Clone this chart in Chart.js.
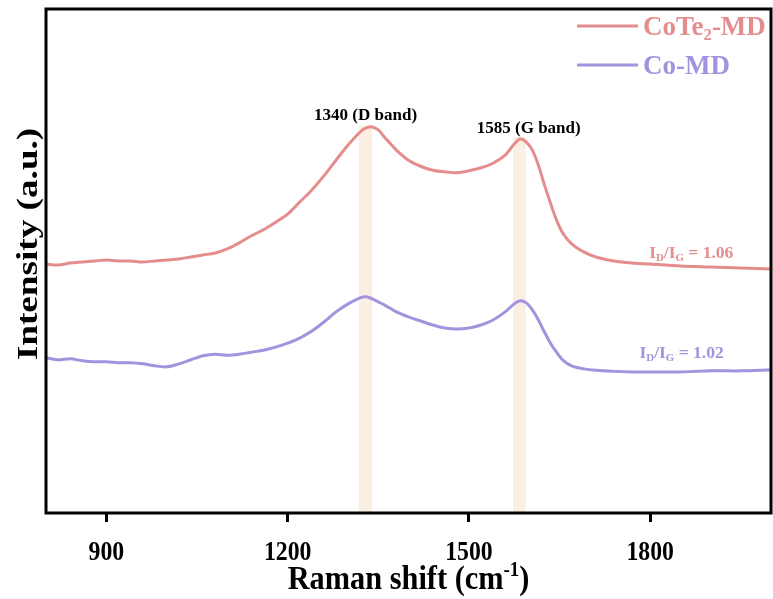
<!DOCTYPE html>
<html><head><meta charset="utf-8">
<script src="https://cdn.jsdelivr.net/npm/chart.js@4.4.1/dist/chart.umd.min.js"></script>
<style>html,body{margin:0;padding:0;background:#fff;}canvas{display:block;}</style>
</head><body>
<canvas id="c" width="773" height="599"></canvas>
<script>
// ---- data ----
const ramanShift = [800,820,840,860,880,900,920,940,960,980,1000,1020,1040,1060,1080,1100,1120,1140,1160,1180,1200,1220,1240,1260,1280,1300,1320,1330,1340,1350,1360,1380,1400,1420,1440,1460,1480,1500,1520,1540,1560,1575,1585,1595,1605,1615,1625,1635,1645,1655,1670,1690,1710,1740,1770,1800,1850,1900,1950,2000];
const cote2MD = [49.4,49.2,49.6,49.8,50.0,50.2,50.0,50.0,49.8,50.0,50.2,50.4,50.8,51.2,51.6,52.4,53.6,55.0,56.2,57.7,59.3,61.7,64.1,66.9,70.0,73.0,75.6,76.4,76.6,76.0,74.6,72.0,70.0,68.8,68.0,67.7,67.5,67.9,68.5,69.4,71.0,73.2,74.2,73.6,72.0,69.0,65.1,61.5,58.1,55.6,53.4,51.8,50.8,50.0,49.6,49.4,49.0,48.8,48.6,48.4];
const coMD = [30.8,30.4,30.6,30.2,30.0,30.0,29.8,29.8,29.6,29.2,29.0,29.6,30.4,31.2,31.5,31.3,31.5,31.9,32.3,32.9,33.7,34.7,36.1,37.9,39.9,41.5,42.7,42.9,42.5,41.9,41.3,39.9,38.9,38.1,37.3,36.7,36.5,36.7,37.3,38.3,39.9,41.5,42.1,41.7,40.3,38.3,35.9,33.7,31.9,30.4,29.2,28.6,28.3,28.1,28.0,28.0,28.0,28.2,28.2,28.4];
const xTicks = [900,1200,1500,1800];
const seriesNames = ['CoTe_{2}-MD','Co-MD'];
const bandFrom = [1318,1573];
const bandTo = [1340,1594];
const bandTop = [76.8,74.6];
const peakLabels = ['1340 (D band)','1585 (G band)'];
const peakLabelX = [1329,1599];
const peakLabelY = [79.0,76.6];
const ratioLabels = ['I_{D}/I_{G} = 1.06','I_{D}/I_{G} = 1.02'];
const ratioLabelX = [1868,1852];
const ratioLabelY = [51.8,31.9];
const xTitle = 'Raman shift (cm^{-1})';
const yTitle = 'Intensity (a.u.)';

const colors = ['rgb(229,141,141)','rgb(163,146,222)'];
const FONT = '"Liberation Serif","Times New Roman",serif';

function parseRich(s){
  const out=[]; const re=/([_^])\{([^}]*)\}/g; let last=0,m;
  while((m=re.exec(s))){ if(m.index>last) out.push([s.slice(last,m.index),0]); out.push([m[2], m[1]==='_'?1:2]); last=re.lastIndex; }
  if(last<s.length) out.push([s.slice(last),0]);
  return out;
}
// draws rich text centred vertically on cy; sx = horizontal stretch of glyphs
function richText(ctx, s, x, cy, size, color, align, sx){
  sx = sx || 1;
  const segs=parseRich(s); const small=size*0.62;
  ctx.save(); ctx.fillStyle=color; ctx.textBaseline='alphabetic'; ctx.textAlign='left';
  let total=0; const ws=[];
  for(const [t,mode] of segs){ ctx.font='bold '+(mode?small:size)+'px '+FONT; const w=ctx.measureText(t).width; ws.push(w); total+=w; }
  total*=sx;
  let px = align==='center'? x-total/2 : (align==='right'? x-total : x);
  const base = cy + size*0.33;
  ctx.translate(px, base); ctx.scale(sx,1);
  let cx=0;
  segs.forEach(([t,mode],i)=>{
    ctx.font='bold '+(mode?small:size)+'px '+FONT;
    const off = mode===1? size*0.2 : (mode===2? -size*0.38 : 0);
    ctx.fillText(t, cx, off); cx+=ws[i];
  });
  ctx.restore();
}

const decor = {
  id:'decor',
  beforeDatasetsDraw(chart){
    const {ctx, scales:{x,y}, chartArea:a} = chart;
    ctx.save(); ctx.fillStyle='rgba(250,234,219,0.8)';
    for(let i=0;i<bandFrom.length;i++){
      const x0=x.getPixelForValue(bandFrom[i]), x1=x.getPixelForValue(bandTo[i]);
      const yt=y.getPixelForValue(bandTop[i]);
      ctx.fillRect(x0, yt, x1-x0, a.bottom-yt);
    }
    ctx.restore();
  },
  afterDraw(chart){
    const {ctx, scales:{x,y}, chartArea:a} = chart;
    // frame
    ctx.save(); ctx.strokeStyle='#000'; ctx.lineWidth=3;
    ctx.strokeRect(a.left, a.top, a.right-a.left, a.bottom-a.top); ctx.restore();
    // tick labels
    xTicks.forEach(v=> richText(ctx, String(v), x.getPixelForValue(v), 551, 27, '#000', 'center', 0.88));
    // peak labels
    for(let i=0;i<peakLabels.length;i++)
      richText(ctx, peakLabels[i], x.getPixelForValue(peakLabelX[i]), y.getPixelForValue(peakLabelY[i]), 17, '#000', 'center');
    for(let i=0;i<ratioLabels.length;i++)
      richText(ctx, ratioLabels[i], x.getPixelForValue(ratioLabelX[i]), y.getPixelForValue(ratioLabelY[i]), 17.5, colors[i], 'center');
    // legend
    const lx0=577, lx1=638, rows=[26,65];
    chart.data.datasets.forEach((ds,i)=>{
      ctx.save(); ctx.strokeStyle=ds.borderColor; ctx.lineWidth=3;
      ctx.beginPath(); ctx.moveTo(lx0,rows[i]); ctx.lineTo(lx1,rows[i]); ctx.stroke(); ctx.restore();
      richText(ctx, seriesNames[i], lx1+5, rows[i], 27, ds.borderColor, 'left');
    });
    // axis titles
    richText(ctx, xTitle, (a.left+a.right)/2, 578, 33, '#000', 'center', 0.92);
    ctx.save(); ctx.translate(27, 244); ctx.rotate(-Math.PI/2);
    richText(ctx, yTitle, 0, 0, 30, '#000', 'center', 1.24); ctx.restore();
  }
};

new Chart(document.getElementById('c'), {
  type:'line',
  data:{
    labels: ramanShift,
    datasets:[
      {label:seriesNames[0], data: ramanShift.map((v,i)=>({x:v,y:cote2MD[i]})), borderColor:colors[0], borderWidth:3, pointRadius:0, tension:0.3, fill:false},
      {label:seriesNames[1], data: ramanShift.map((v,i)=>({x:v,y:coMD[i]})), borderColor:colors[1], borderWidth:3, pointRadius:0, tension:0.3, fill:false}
    ]
  },
  options:{
    responsive:false, animation:false, devicePixelRatio:1,
    layout:{padding:{left:46,top:9,right:2,bottom:0}},
    plugins:{legend:{display:false}, tooltip:{enabled:false}},
    scales:{
      x:{type:'linear', min:800, max:2000,
        afterBuildTicks(s){ s.ticks = xTicks.map(v=>({value:v})); },
        afterFit(s){ s.height = 86; },
        border:{display:false},
        grid:{display:true, drawOnChartArea:false, drawTicks:true, tickLength:9, tickWidth:3, tickColor:'#000'},
        ticks:{display:false}
      },
      y:{display:false, min:0, max:100}
    }
  },
  plugins:[decor]
});
</script>
</body></html>
